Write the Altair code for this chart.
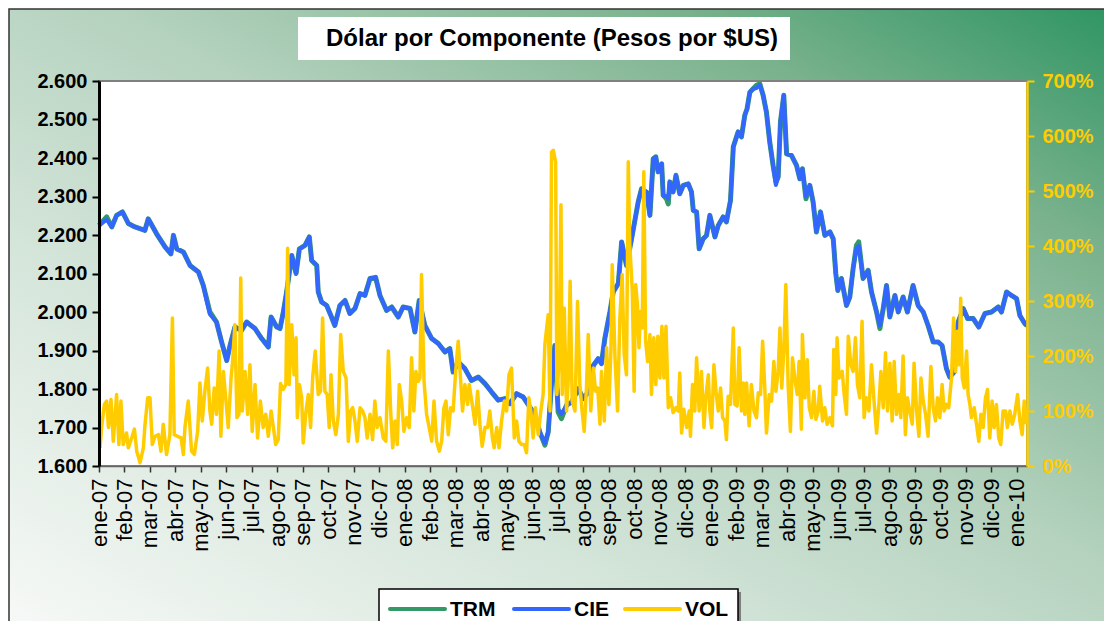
import json
import altair as alt
import pandas as pd

# ---------------- data ----------------
TITLE = "Dólar por Componente (Pesos por $US)"

MONTH_LABELS = [
    "ene-07", "feb-07", "mar-07", "abr-07", "may-07", "jun-07", "jul-07", "ago-07",
    "sep-07", "oct-07", "nov-07", "dic-07", "ene-08", "feb-08", "mar-08", "abr-08",
    "may-08", "jun-08", "jul-08", "ago-08", "sep-08", "oct-08", "nov-08", "dic-08",
    "ene-09", "feb-09", "mar-09", "abr-09", "may-09", "jun-09", "jul-09", "ago-09",
    "sep-09", "oct-09", "nov-09", "dic-09", "ene-10",
]

# position in months since 1 Jan 2007
FX_MES = [
    0.00, 0.30, 0.50, 0.69, 0.92, 1.15, 1.41, 1.80, 1.93, 2.26, 2.59, 2.82, 2.92, 3.05, 3.31,
    3.57, 3.90, 4.09, 4.22, 4.35, 4.61, 4.81, 5.01, 5.14, 5.33, 5.59, 5.79, 6.12, 6.38, 6.64,
    6.75, 6.97, 7.10, 7.23, 7.36, 7.56, 7.73, 7.86, 8.08, 8.25, 8.34, 8.54, 8.60, 8.73, 8.93,
    9.12, 9.25, 9.45, 9.65, 9.84, 10.04, 10.24, 10.43, 10.63, 10.85, 11.02, 11.28, 11.48, 11.74,
    11.93, 12.20, 12.39, 12.56, 12.78, 13.05, 13.31, 13.57, 13.76, 13.89, 14.09, 14.35, 14.61,
    14.88, 15.14, 15.40, 15.66, 15.92, 16.12, 16.38, 16.64, 16.90, 17.10, 17.29, 17.49, 17.62,
    17.78, 17.88, 18.01, 18.14, 18.34, 18.54, 18.80, 18.99, 19.19, 19.39, 19.58, 19.71, 19.84,
    20.04, 20.17, 20.37, 20.50, 20.69, 20.89, 21.15, 21.28, 21.48, 21.61, 21.74, 21.84, 21.93,
    22.07, 22.13, 22.26, 22.33, 22.39, 22.52, 22.63, 22.78, 22.92, 23.11, 23.24, 23.31, 23.44,
    23.54, 23.70, 23.83, 23.96, 24.16, 24.29, 24.48, 24.61, 24.77, 24.88, 25.07, 25.20, 25.33,
    25.42, 25.53, 25.66, 25.79, 25.92, 26.05, 26.18, 26.31, 26.44, 26.55, 26.64, 26.73, 26.86,
    26.97, 27.16, 27.36, 27.49, 27.59, 27.73, 27.88, 28.01, 28.14, 28.30, 28.47, 28.67, 28.80,
    28.90, 28.98, 29.12, 29.32, 29.45, 29.58, 29.71, 29.80, 29.97, 30.17, 30.30, 30.50, 30.63,
    30.76, 30.89, 31.02, 31.22, 31.35, 31.54, 31.71, 31.93, 32.13, 32.33, 32.52, 32.72, 32.92,
    33.07, 33.24, 33.37, 33.54, 33.70, 33.90, 34.07, 34.29, 34.51, 34.75, 35.01, 35.27, 35.40,
    35.60, 35.79, 35.99, 36.12, 36.31, 36.40,
]

TRM = [
    2225, 2247, 2221, 2251, 2260, 2230, 2221, 2212, 2242, 2203, 2169, 2151, 2199, 2164, 2156,
    2121, 2104, 2069, 2035, 2000, 1974, 1922, 1874, 1913, 1961, 1952, 1974, 1957, 1931, 1909,
    1987, 1961, 1957, 2000, 2052, 2147, 2100, 2164, 2173, 2195, 2134, 2121, 2052, 2026, 2017,
    1987, 1965, 2017, 2030, 1996, 2009, 2048, 2043, 2087, 2090, 2043, 2004, 2013, 1987,
    2013, 2009, 1948, 2030, 1965, 1931, 1918, 1896, 1905, 1844, 1870, 1853, 1822,
    1831, 1814, 1792, 1771, 1775, 1762, 1788, 1779, 1753, 1732, 1688, 1654, 1688,
    1844, 1913, 1740, 1723, 1758, 1766, 1801, 1775, 1792, 1861, 1879, 1866, 1931,
    2000, 2052, 2074, 2182, 2121, 2190, 2286, 2320, 2311, 2251, 2398, 2403, 2364,
    2385, 2303, 2294, 2281, 2338, 2312, 2355, 2307, 2329, 2333, 2312, 2264, 2260,
    2164, 2190, 2199, 2251, 2195, 2225, 2247, 2234, 2290, 2429, 2468, 2455, 2511,
    2528, 2571, 2580, 2589, 2593, 2563, 2519, 2441, 2381, 2338, 2351, 2494, 2563,
    2411, 2407, 2381, 2346, 2372, 2294, 2329, 2286, 2208, 2260, 2199, 2208, 2190,
    2100, 2056, 2087, 2017, 2039, 2113, 2173, 2182, 2087, 2108, 2052, 2000, 1957,
    2009, 2069, 1987, 2043, 2000, 2039, 2000, 2069, 2017, 2000, 1965, 1922, 1922,
    1913, 1853, 1831, 1844, 1974, 2009, 1983, 1983, 1961, 1996, 2000, 2013, 2000,
    2052, 2043, 2035, 1991, 1970, 1965,
]

CIE = [
    2225, 2240, 2221, 2251, 2260, 2230, 2221, 2212, 2242, 2203, 2169, 2151, 2199, 2164, 2156,
    2121, 2104, 2069, 2030, 1994, 1974, 1922, 1874, 1913, 1961, 1952, 1974, 1957, 1931, 1909,
    1987, 1961, 1957, 2000, 2052, 2147, 2100, 2164, 2173, 2195, 2134, 2121, 2052, 2026, 2017,
    1987, 1965, 2017, 2030, 1996, 2009, 2048, 2043, 2087, 2090, 2043, 2004, 2013, 1987,
    2013, 2009, 1948, 2030, 1965, 1931, 1918, 1896, 1905, 1844, 1870, 1853, 1822,
    1831, 1814, 1792, 1771, 1775, 1762, 1788, 1779, 1753, 1732, 1688, 1660, 1688,
    1844, 1913, 1748, 1735, 1758, 1766, 1801, 1775, 1792, 1861, 1879, 1866, 1931,
    2000, 2052, 2074, 2182, 2121, 2190, 2286, 2320, 2311, 2251, 2398, 2403, 2364,
    2385, 2303, 2300, 2295, 2338, 2312, 2355, 2307, 2329, 2333, 2312, 2264, 2260,
    2164, 2190, 2199, 2251, 2195, 2225, 2247, 2234, 2290, 2429, 2468, 2455, 2511,
    2528, 2571, 2580, 2582, 2590, 2563, 2519, 2441, 2381, 2330, 2351, 2494, 2563,
    2411, 2407, 2381, 2346, 2372, 2300, 2329, 2286, 2208, 2260, 2199, 2208, 2190,
    2100, 2056, 2087, 2017, 2039, 2113, 2165, 2172, 2087, 2108, 2052, 2000, 1965,
    2009, 2069, 1987, 2043, 2000, 2039, 2000, 2069, 2017, 2000, 1965, 1922, 1922,
    1913, 1853, 1831, 1844, 1974, 2009, 1983, 1983, 1961, 1996, 2000, 2013, 2000,
    2052, 2043, 2035, 1991, 1970, 1965,
]

VOL_MES = [
    0.04, 0.10, 0.21, 0.30, 0.37, 0.47, 0.56, 0.69, 0.78, 0.86, 0.95, 1.08, 1.15, 1.28, 1.39,
    1.48, 1.61, 1.74, 1.80, 1.91, 2.00, 2.09, 2.20, 2.33, 2.43, 2.52, 2.65, 2.78, 2.88, 2.95,
    3.08, 3.22, 3.31, 3.37, 3.50, 3.63, 3.74, 3.87, 3.96, 4.05, 4.16, 4.26, 4.35, 4.42, 4.52,
    4.61, 4.71, 4.78, 4.88, 4.97, 5.07, 5.18, 5.24, 5.33, 5.41, 5.49, 5.56, 5.62, 5.73, 5.83,
    5.92, 6.01, 6.12, 6.22, 6.33, 6.44, 6.54, 6.64, 6.75, 6.84, 6.93, 7.03, 7.12, 7.22, 7.33,
    7.40, 7.46, 7.56, 7.65, 7.73, 7.78, 7.86, 7.95, 8.01, 8.12, 8.21, 8.30, 8.38, 8.48, 8.60,
    8.69, 8.77, 8.86, 8.95, 9.03, 9.10, 9.19, 9.29, 9.39, 9.48, 9.58, 9.69, 9.78, 9.87, 9.95,
    10.04, 10.13, 10.24, 10.34, 10.43, 10.52, 10.63, 10.73, 10.82, 10.91, 11.02, 11.15, 11.25,
    11.35, 11.44, 11.52, 11.61, 11.70, 11.78, 11.87, 11.96, 12.07, 12.17, 12.26, 12.35, 12.43,
    12.52, 12.59, 12.65, 12.75, 12.85, 12.95, 13.05, 13.14, 13.24, 13.35, 13.44, 13.53, 13.61,
    13.70, 13.79, 13.89, 13.99, 14.09, 14.18, 14.26, 14.35, 14.46, 14.52, 14.68, 14.75, 14.85,
    14.94, 15.03, 15.14, 15.24, 15.33, 15.43, 15.50, 15.60, 15.69, 15.79, 15.90, 15.99, 16.08,
    16.18, 16.29, 16.38, 16.47, 16.58, 16.68, 16.77, 16.86, 16.94, 17.03, 17.12, 17.23, 17.33,
    17.42, 17.49, 17.56, 17.62, 17.69, 17.75, 17.82, 17.91, 17.96, 18.04, 18.12, 18.17, 18.25,
    18.34, 18.41, 18.48, 18.56, 18.67, 18.77, 18.86, 18.95, 19.03, 19.12, 19.19, 19.29, 19.39,
    19.48, 19.56, 19.65, 19.71, 19.82, 19.91, 20.00, 20.08, 20.13, 20.24, 20.34, 20.43, 20.52,
    20.60, 20.69, 20.76, 20.82, 20.92, 20.99, 21.05, 21.12, 21.18, 21.24, 21.31, 21.37, 21.44,
    21.52, 21.61, 21.67, 21.76, 21.84, 21.92, 22.00, 22.08, 22.16, 22.24, 22.33, 22.42, 22.52,
    22.63, 22.72, 22.78, 22.85, 22.94, 23.05, 23.15, 23.20, 23.28, 23.37, 23.44, 23.54, 23.63,
    23.73, 23.80, 23.90, 23.96, 24.03, 24.12, 24.20, 24.29, 24.38, 24.46, 24.55, 24.61, 24.68,
    24.77, 24.88, 24.94, 25.03, 25.11, 25.20, 25.27, 25.33, 25.40, 25.50, 25.59, 25.69, 25.79,
    25.86, 25.95, 26.03, 26.12, 26.18, 26.29, 26.38, 26.47, 26.55, 26.64, 26.71, 26.78, 26.86,
    26.94, 27.03, 27.12, 27.20, 27.29, 27.39, 27.46, 27.55, 27.59, 27.69, 27.78, 27.86, 27.95,
    28.04, 28.12, 28.21, 28.27, 28.38, 28.47, 28.56, 28.67, 28.77, 28.82, 28.90, 28.95, 29.03,
    29.15, 29.23, 29.32, 29.39, 29.49, 29.58, 29.67, 29.75, 29.84, 29.93, 30.01, 30.10, 30.20,
    30.30, 30.41, 30.50, 30.59, 30.67, 30.76, 30.85, 30.93, 31.02, 31.11, 31.19, 31.28, 31.37,
    31.45, 31.54, 31.63, 31.71, 31.80, 31.90, 31.97, 32.07, 32.16, 32.24, 32.33, 32.42, 32.52,
    32.63, 32.72, 32.81, 32.89, 32.98, 33.07, 33.15, 33.24, 33.33, 33.44, 33.52, 33.60, 33.67,
    33.73, 33.80, 33.86, 33.94, 34.03, 34.09, 34.16, 34.22, 34.33, 34.42, 34.51, 34.59, 34.68,
    34.77, 34.85, 34.94, 35.03, 35.11, 35.20, 35.29, 35.37, 35.46, 35.56, 35.63, 35.73, 35.82,
    35.92, 36.03, 36.12, 36.21, 36.29, 36.38,
]

VOL = [
    33, 70, 112, 118, 70, 121, 45, 130, 39, 118, 39, 60, 33, 51, 67,
    27, 6, 33, 73, 124, 124, 39, 54, 57, 27, 76, 21, 57, 269, 57,
    54, 51, 21, 70, 118, 27, 21, 63, 151, 82, 139, 178, 100, 76, 142,
    94, 209, 54, 172, 124, 70, 160, 190, 257, 88, 94, 342, 100, 172, 94,
    184, 63, 148, 51, 118, 70, 94, 54, 100, 70, 39, 48, 150, 139, 148,
    396, 148, 257, 166, 233, 88, 148, 124, 42, 100, 130, 70, 160, 209, 130,
    136, 269, 136, 130, 70, 166, 82, 57, 94, 239, 172, 160, 45, 100, 106,
    82, 45, 106, 100, 88, 51, 94, 48, 118, 70, 88, 51, 45,
    209, 100, 33, 82, 39, 148, 118, 63, 88, 70, 197, 100, 172,
    154, 160, 348, 154, 94, 70, 45, 118, 45, 27, 45, 106, 118,
    57, 106, 100, 172, 227, 160, 100, 148, 112, 148, 100, 76, 136,
    76, 36, 70, 70, 100, 51, 33, 70, 33, 82, 118, 100, 166,
    178, 51, 82, 45, 39, 39, 24, 124, 100, 51, 106, 57, 100,
    130, 221, 251, 275, 100, 571, 574, 553, 130, 184, 475, 130, 287,
    100, 160, 336, 118, 100, 299, 148, 100, 63, 142, 239, 100, 178,
    136, 142, 76, 172, 82, 215, 112, 209, 366, 197, 100, 269, 348,
    203, 166, 553, 402, 317, 136, 330, 293, 215, 281, 251, 535, 227,
    190, 239, 130, 233, 148, 236, 160, 254, 160, 254, 106, 124, 97,
    106, 100, 169, 60, 103, 70, 100, 54, 148, 100, 197, 100, 172,
    70, 124, 166, 100, 70, 184, 136, 100, 142, 88, 82, 48, 127,
    112, 251, 112, 109, 215, 100, 151, 94, 151, 73, 148, 100, 88,
    133, 130, 227, 136, 60, 130, 118, 190, 136, 172, 251, 142, 209,
    330, 148, 63, 197, 160, 130, 190, 67, 239, 124, 193, 106, 88,
    136, 85, 100, 145, 82, 106, 76, 88, 73, 212, 130, 233, 160,
    172, 130, 94, 236, 184, 172, 233, 148, 124, 263, 88, 124, 100,
    184, 112, 60, 112, 172, 106, 206, 100, 187, 82, 190, 94, 130,
    88, 200, 57, 124, 100, 76, 187, 100, 54, 160, 118, 94, 54,
    181, 106, 82, 124, 88, 148, 100, 112, 106, 160, 269, 172, 245,
    184, 305, 160, 142, 209, 130, 112, 88, 106, 76, 45, 94, 70,
    124, 139, 51, 118, 70, 112, 51, 39, 100, 100, 70, 100, 76,
    94, 130, 82, 57, 118, 76,
]

SERIES = ["TRM", "CIE", "VOL"]
COLORS = ["#339966", "#3366FF", "#FFCC00"]

# ---------------- layout ----------------
W, H = 928, 385
PAD = {"left": 91, "top": 73, "right": 77, "bottom": 155}
FONT = "Liberation Sans"

df_trm = pd.DataFrame({"mes": FX_MES, "valor": TRM})
df_cie = pd.DataFrame({"mes": FX_MES, "valor": CIE})
df_vol = pd.DataFrame({"mes": VOL_MES, "vol": VOL})
one = pd.DataFrame({"k": [0]})

x_axis = alt.Axis(
    values=list(range(len(MONTH_LABELS))),
    labelExpr=f"{json.dumps(MONTH_LABELS)}[datum.value]",
    labelAngle=270, labelFontSize=22, labelFont=FONT, labelColor="black",
    labelOverlap=False, labelPadding=6,
    tickColor="#333333", tickWidth=1.5, tickSize=6,
    domainColor="#666666", domainWidth=1.5,
    grid=False, title=None, zindex=1,
)
x_enc = alt.X("mes:Q", scale=alt.Scale(domain=[0, 36.4], nice=False, zero=False), axis=x_axis)

left_axis = alt.Axis(
    orient="left", values=list(range(1600, 2601, 100)),
    labelExpr="replace(format(datum.value, ','), ',', '.')",
    labelFontSize=20, labelFontWeight="bold", labelFont=FONT, labelColor="black",
    labelPadding=5, tickColor="black", tickWidth=2, tickSize=7,
    domainColor="black", domainWidth=3, grid=False, title=None, zindex=1,
)
left_scale = alt.Scale(domain=[1600, 2600], nice=False, zero=False)

right_axis = alt.Axis(
    orient="right", values=list(range(0, 701, 100)),
    labelExpr="datum.value + '%'",
    labelFontSize=20, labelFontWeight="bold", labelFont=FONT, labelColor="#FFCC00",
    labelPadding=8, tickColor="#FFCC00", tickWidth=2, tickSize=7,
    domainColor="#FFCC00", domainWidth=2.5, grid=False, title=None, zindex=1,
)

# background gradient of the whole chart
bg = alt.Chart(one).mark_rect(
    fill=alt.Gradient(
        gradient="linear",
        stops=[
            alt.GradientStop(color="#f7f9f7", offset=0),
            alt.GradientStop(color="#d6e6db", offset=0.3),
            alt.GradientStop(color="#b4d2be", offset=0.55),
            alt.GradientStop(color="#7ab28d", offset=0.8),
            alt.GradientStop(color="#2f9563", offset=1),
        ],
        x1=0, y1=1, x2=1, y2=0,
    ),
    stroke="#333333", strokeWidth=1.5,
).encode(
    x=alt.value(-90), x2=alt.value(W + PAD["right"] + 10),
    y=alt.value(-72), y2=alt.value(H + PAD["bottom"] + 10),
)

plot_bg = alt.Chart(one).mark_rect(fill="white", stroke="#808080", strokeWidth=2).encode(
    x=alt.value(0), x2=alt.value(W), y=alt.value(0), y2=alt.value(H)
)

title_box = alt.Chart(one).mark_rect(fill="white").encode(
    x=alt.value(199), x2=alt.value(691), y=alt.value(-64), y2=alt.value(-21)
)
title_text = alt.Chart(one).mark_text(
    text=TITLE, font=FONT, fontSize=24, fontWeight="bold", color="black",
    align="center", baseline="middle",
).encode(x=alt.value(453), y=alt.value(-42))

trm_layer = alt.Chart(df_trm).mark_line(color=COLORS[0], strokeWidth=5, strokeJoin="round").encode(
    x=x_enc, y=alt.Y("valor:Q", scale=left_scale, axis=left_axis)
)
cie_layer = alt.Chart(df_cie).mark_line(color=COLORS[1], strokeWidth=4, strokeJoin="round").encode(
    x=x_enc, y=alt.Y("valor:Q", scale=left_scale, axis=left_axis)
)
left_layers = alt.layer(trm_layer, cie_layer)

vol_layer = alt.Chart(df_vol).mark_line(color=COLORS[2], strokeWidth=3.5, strokeJoin="round").encode(
    x=x_enc, y=alt.Y("vol:Q", scale=alt.Scale(domain=[0, 700], nice=False, zero=True), axis=right_axis)
)

# legend (drawn by hand, box below the axis labels)
LEG_BOX = (280, 639, 508)
LEG_X = [291, 415, 526]
LEG_Y = 528
legend_layers = [
    alt.Chart(one).mark_rect(fill="#7f7f7f").encode(
        x=alt.value(LEG_BOX[0] + 3), x2=alt.value(LEG_BOX[1] + 3),
        y=alt.value(LEG_BOX[2] + 3), y2=alt.value(H + PAD["bottom"] + 10)),
    alt.Chart(one).mark_rect(fill="white", stroke="black", strokeWidth=1.5).encode(
        x=alt.value(LEG_BOX[0]), x2=alt.value(LEG_BOX[1]),
        y=alt.value(LEG_BOX[2]), y2=alt.value(H + PAD["bottom"] + 10)),
]
for name, col, lx in zip(SERIES, COLORS, LEG_X):
    legend_layers.append(
        alt.Chart(one).mark_rule(color=col, strokeWidth=4, strokeCap="round").encode(
            x=alt.value(lx), x2=alt.value(lx + 55), y=alt.value(LEG_Y))
    )
    legend_layers.append(
        alt.Chart(one).mark_text(
            text=name, font=FONT, fontSize=21, fontWeight="bold", color="black",
            align="left", baseline="middle",
        ).encode(x=alt.value(lx + 60), y=alt.value(LEG_Y + 1))
    )

chart = (
    alt.layer(bg, plot_bg, title_box, title_text, left_layers, vol_layer, *legend_layers)
    .resolve_scale(y="independent")
    .properties(
        width=W, height=H,
        autosize=alt.AutoSizeParams(type="none"),
        padding=PAD,
    )
    .configure(font=FONT, background="white")
    .configure_view(stroke=None)
)

chart.save("out.html", embed_options={"renderer": "svg", "actions": False})
